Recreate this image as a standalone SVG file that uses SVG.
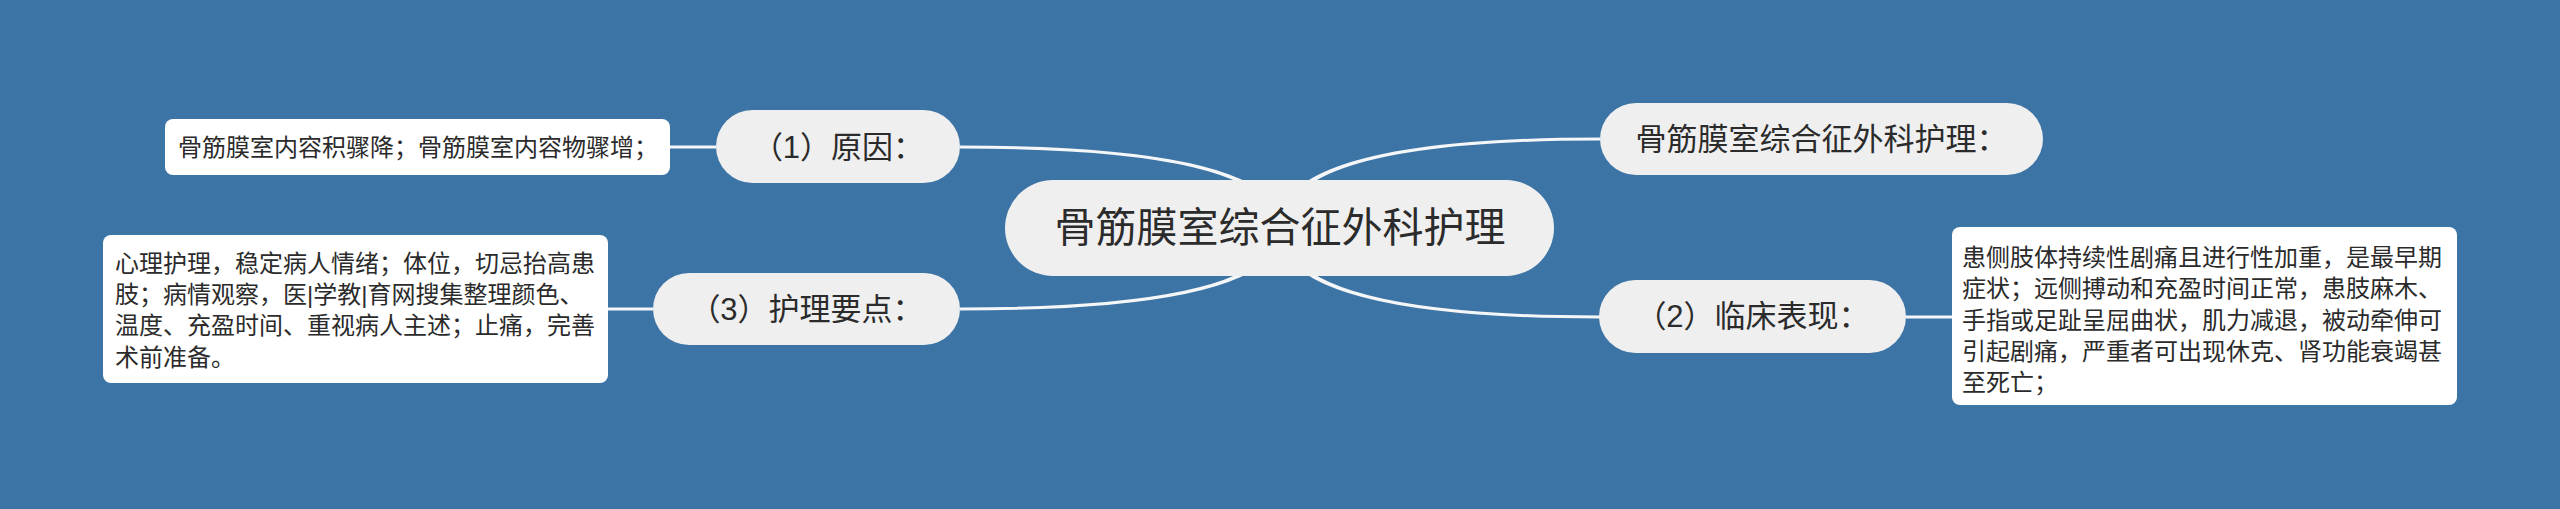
<svg xmlns="http://www.w3.org/2000/svg" width="2560" height="509" viewBox="0 0 2560 509">
<style>
.bg{fill:#3d74a6}
.conn{fill:#f4f6f8}
.line{stroke:#f4f6f8;stroke-width:3;fill:none}
.pill{fill:#efefef}
.leaf{fill:#ffffff}
.t{font-family:"Liberation Sans","Noto Sans CJK SC",sans-serif;fill:#2b2b2b;dominant-baseline:central}
.root{font-size:41px;text-anchor:middle}
.sub{font-size:31px;text-anchor:middle}
.small{font-size:24px}
</style>
<rect class="bg" x="0" y="0" width="2560" height="509"/>
<g id="connectors">
  <!-- center (1280,228) to (1) right edge (960,147) -->
  <path class="conn" d="M1277 228 Q1277 148.5 960 148.5 L960 145.5 Q1283 145.5 1283 228 Z"/>
  <!-- center to (3) right edge (960,309) -->
  <path class="conn" d="M1277 228 Q1277 307.5 960 307.5 L960 310.5 Q1283 310.5 1283 228 Z"/>
  <!-- center to top-right node (1600,139) -->
  <path class="conn" d="M1283 228 Q1283 140.5 1600 140.5 L1600 137.5 Q1277 137.5 1277 228 Z"/>
  <!-- center to (2) left edge (1599,317) -->
  <path class="conn" d="M1283 228 Q1283 315.5 1600 315.5 L1600 318.5 Q1277 318.5 1277 228 Z"/>
  <line class="line" x1="670" y1="147" x2="716" y2="147"/>
  <line class="line" x1="608" y1="309" x2="653" y2="309"/>
  <line class="line" x1="1906" y1="317" x2="1952" y2="317"/>
</g>
<g id="root">
  <rect class="pill" x="1005" y="180" width="549" height="96" rx="48"/>
  <text class="t root" x="1280" y="228">骨筋膜室综合征外科护理</text>
</g>
<g id="n1">
  <rect class="pill" x="716" y="110" width="244" height="73" rx="36.5"/>
  <text class="t sub" x="838" y="147">（1）原因：</text>
</g>
<g id="leaf1">
  <rect class="leaf" x="165" y="119" width="505" height="56" rx="8"/>
  <text class="t small" x="178" y="147">骨筋膜室内容积骤降；骨筋膜室内容物骤增；</text>
</g>
<g id="n3">
  <rect class="pill" x="653" y="273" width="307" height="72" rx="36"/>
  <text class="t sub" x="806.5" y="309">（3）护理要点：</text>
</g>
<g id="leaf3">
  <rect class="leaf" x="103" y="235" width="505" height="148" rx="8"/>
  <text class="t small" x="115" y="263">心理护理，稳定病人情绪；体位，切忌抬高患</text>
  <text class="t small" x="115" y="294.3">肢；病情观察，医|学教|育网搜集整理颜色、</text>
  <text class="t small" x="115" y="325.6">温度、充盈时间、重视病人主述；止痛，完善</text>
  <text class="t small" x="115" y="357">术前准备。</text>
</g>
<g id="n0">
  <rect class="pill" x="1600" y="103" width="443" height="72" rx="36"/>
  <text class="t sub" x="1821.5" y="139">骨筋膜室综合征外科护理：</text>
</g>
<g id="n2">
  <rect class="pill" x="1599" y="280" width="307" height="73" rx="36.5"/>
  <text class="t sub" x="1752.5" y="316.5">（2）临床表现：</text>
</g>
<g id="leaf2">
  <rect class="leaf" x="1952" y="227" width="505" height="178" rx="8"/>
  <text class="t small" x="1962" y="257.5">患侧肢体持续性剧痛且进行性加重，是最早期</text>
  <text class="t small" x="1962" y="288.8">症状；远侧搏动和充盈时间正常，患肢麻木、</text>
  <text class="t small" x="1962" y="320.1">手指或足趾呈屈曲状，肌力减退，被动牵伸可</text>
  <text class="t small" x="1962" y="351.4">引起剧痛，严重者可出现休克、肾功能衰竭甚</text>
  <text class="t small" x="1962" y="382.7">至死亡；</text>
</g>
</svg>
